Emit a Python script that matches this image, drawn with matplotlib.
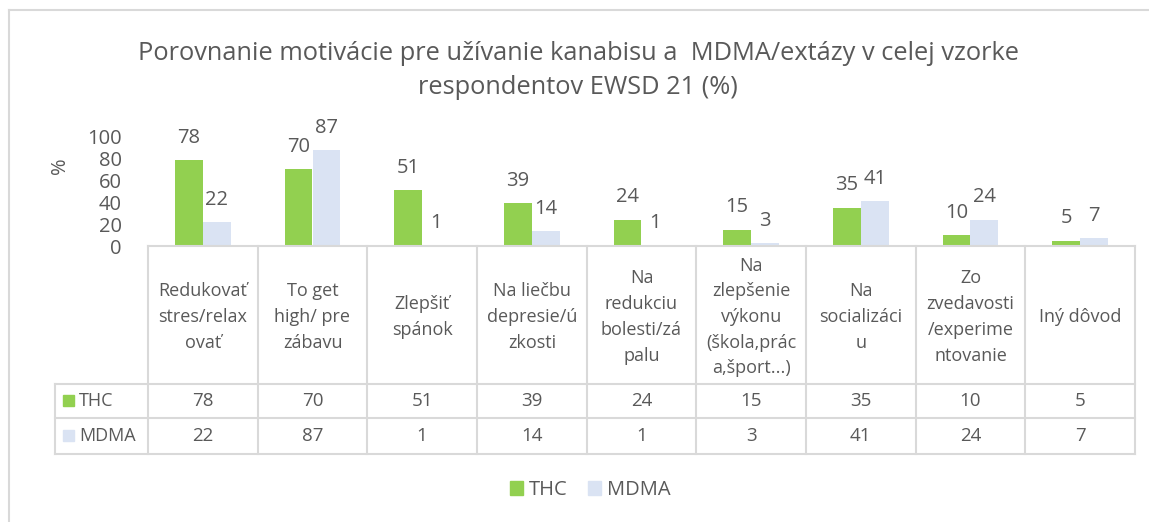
import matplotlib.pyplot as plt
import matplotlib.transforms as mtransforms
from matplotlib.lines import Line2D
from matplotlib.patches import Rectangle
import numpy as np

plt.rcParams['font.family'] = ['Open Sans', 'DejaVu Sans']

# Data
kategorie = ['Redukovať\nstres/relax\novať', 'To get\nhigh/ pre\nzábavu', 'Zlepšiť\nspánok',
             'Na liečbu\ndepresie/ú\nzkosti', 'Na\nredukciu\nbolesti/zá\npalu',
             'Na\nzlepšenie\nvýkonu\n(škola,prác\na,šport...)', 'Na\nsocializáci\nu',
             'Zo\nzvedavosti\n/experime\nntovanie', 'Iný dôvod']
thc = [78, 70, 51, 39, 24, 15, 35, 10, 5]
mdma = [22, 87, 1, 14, 1, 3, 41, 24, 7]
serie = ['THC', 'MDMA']
farby = ['#92D050', '#DAE3F3']
titulok = 'Porovnanie motivácie pre užívanie kanabisu a  MDMA/extázy v celej vzorke\nrespondentov EWSD 21 (%)'

W, H = 1149, 522
sedy = '#595959'
ciara = '#D9D9D9'

fig = plt.figure(figsize=(W / 100, H / 100), dpi=100)
ax = fig.add_axes([148 / W, 1 - 246 / H, (1135 - 148) / W, (246 - 136) / H])

n = len(kategorie)
x = np.arange(n) + 0.5
sirka = 0.255
b1 = ax.bar(x - sirka / 2, thc, sirka, color=farby[0])
b2 = ax.bar(x + sirka / 2, mdma, sirka, color=farby[1])
for bars, vals in ((b1, thc), (b2, mdma)):
    for r, v in zip(bars, vals):
        ax.text(r.get_x() + r.get_width() / 2, v + 11, str(v), ha='center', va='bottom',
                fontsize=14.5, color=sedy, clip_on=False)

ax.set_xlim(0, n)
ax.set_ylim(0, 100)
ax.set_yticks(range(0, 101, 20))
ax.tick_params(axis='y', length=0, labelsize=14.5, labelcolor=sedy, pad=19)
ax.set_xticks([])
for s in ['top', 'right', 'left']:
    ax.spines[s].set_visible(False)
ax.spines['bottom'].set_color(ciara)
ax.spines['bottom'].set_linewidth(1.5)
ax.set_ylabel('%', fontsize=14.5, color=sedy)
ax.yaxis.set_label_coords((70 - 148) / 987, (246 - 166) / 110)

fig.suptitle(titulok, x=578 / W, y=1 - 41 / H, fontsize=18.3, color=sedy,
             linespacing=1.45, va='top')

# data table below the axis
tr = mtransforms.blended_transform_factory(ax.transData, fig.transFigure)
def fy(p):
    return 1 - p / H

y_top, y_h, y_r1, y_r2 = 246, 384, 418, 454
for i in range(n + 1):
    fig.add_artist(Line2D([i, i], [fy(y_top), fy(y_r2)], transform=tr, color=ciara, lw=1.5))
for yy in (y_h, y_r1, y_r2):
    fig.add_artist(Line2D([55 / W, 1135 / W], [fy(yy), fy(yy)], transform=fig.transFigure,
                          color=ciara, lw=1.5))
fig.add_artist(Line2D([55 / W, 55 / W], [fy(y_h), fy(y_r2)], transform=fig.transFigure,
                      color=ciara, lw=1.5))

for i, k in enumerate(kategorie):
    fig.text(i + 0.5, fy((y_top + y_h) / 2 + 2), k, transform=tr, ha='center', va='center',
             fontsize=13, color=sedy, linespacing=1.55)
    fig.text(i + 0.5, fy((y_h + y_r1) / 2), str(thc[i]), transform=tr, ha='center',
             va='center', fontsize=13.5, color=sedy)
    fig.text(i + 0.5, fy((y_r1 + y_r2) / 2), str(mdma[i]), transform=tr, ha='center',
             va='center', fontsize=13.5, color=sedy)

for j, (meno, farba) in enumerate(zip(serie, farby)):
    yc = (y_h + y_r1) / 2 if j == 0 else (y_r1 + y_r2) / 2
    fig.add_artist(Rectangle((63 / W, fy(yc + 5)), 11 / W, 11 / H, transform=fig.transFigure,
                             color=farba))
    fig.text(79 / W, fy(yc), meno, ha='left', va='center', fontsize=13, color=sedy)

# legend
fig.legend(handles=[Rectangle((0, 0), 1, 1, color=f) for f in farby], labels=serie,
           loc='center', bbox_to_anchor=(590 / W, fy(490)), ncol=2, frameon=False,
           fontsize=14.5, handlelength=0.65, handleheight=0.65, handletextpad=0.3,
           columnspacing=1.0, labelcolor=sedy)

# chart border
fig.add_artist(Line2D([9 / W, 9 / W], [0, fy(10)], transform=fig.transFigure, color=ciara, lw=1.5))
fig.add_artist(Line2D([9 / W, 1], [fy(10), fy(10)], transform=fig.transFigure, color=ciara, lw=1.5))

fig.savefig('out.png', dpi=100)
